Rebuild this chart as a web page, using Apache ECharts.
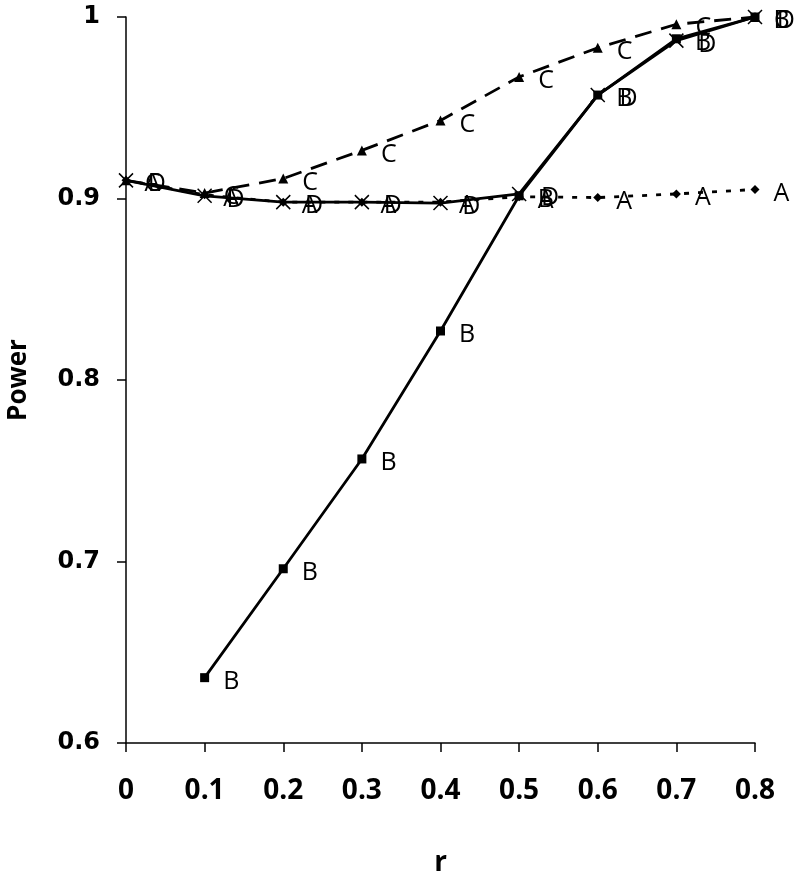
<!DOCTYPE html>
<html><head><meta charset="utf-8">
<script src="https://cdn.jsdelivr.net/npm/echarts@6/dist/echarts.min.js"></script>
<style>html,body{margin:0;padding:0;background:#fff}#c{width:800px;height:882px}</style>
</head><body><div id="c"></div>
<script>
const rValues = [0, 0.1, 0.2, 0.3, 0.4, 0.5, 0.6, 0.7, 0.8];
const seriesA = [0.910, 0.902, 0.898, 0.898, 0.898, 0.901, 0.9005, 0.9025, 0.905];
const seriesB = [null, 0.636, 0.696, 0.7565, 0.827, 0.9015, 0.957, 0.988, 1.0];
const seriesC = [0.910, 0.903, 0.911, 0.9265, 0.943, 0.967, 0.983, 0.996, 1.0];
const seriesD = [0.910, 0.9015, 0.898, 0.898, 0.8975, 0.9025, 0.957, 0.987, 1.0];
const seriesNames = ['A', 'B', 'C', 'D'];
const xTicks = ['0', '0.1', '0.2', '0.3', '0.4', '0.5', '0.6', '0.7', '0.8'];
const yTicks = ['0.6', '0.7', '0.8', '0.9', '1'];

function pairs(vals) { return rValues.map((x, i) => [x, vals[i]]).filter(p => p[1] != null); }
const lbl = (name) => ({
  show: true, position: 'right', distance: 14, offset: [0, 4],
  formatter: name, color: '#000', fontSize: 25, fontFamily: 'Open Sans'
});
const chart = echarts.init(document.getElementById('c'));
chart.setOption({
  animation: false,
  backgroundColor: '#fff',
  grid: { left: 126, right: 45, top: 17, bottom: 139, containLabel: false, outerBoundsMode: 'none' },
  xAxis: {
    type: 'value', min: 0, max: 0.8, interval: 0.1,
    name: 'r', nameLocation: 'middle', nameGap: 106,
    nameTextStyle: { fontSize: 28, fontWeight: 'bold', fontFamily: "'Open Sans'", color: '#000' },
    axisLine: { lineStyle: { color: '#000', width: 1.5 } },
    axisTick: { inside: false, length: 9, lineStyle: { color: '#000', width: 1.5 } },
    axisLabel: { margin: 34, fontSize: 28, fontWeight: 'bold', color: '#000', fontFamily: "'Open Sans'",
      formatter: (v) => xTicks[Math.round(v * 10)] },
    splitLine: { show: false }
  },
  yAxis: {
    type: 'value', min: 0.6, max: 1, interval: 0.1,
    name: 'Power', nameLocation: 'middle', nameGap: 94, nameRotate: 90,
    nameTextStyle: { fontSize: 26, fontWeight: 'bold', fontFamily: "'Open Sans'", color: '#000' },
    axisLine: { show: true, lineStyle: { color: '#000', width: 1.5 } },
    axisTick: { show: true, length: 9, lineStyle: { color: '#000', width: 1.5 } },
    axisLabel: { margin: 26, fontSize: 24, fontWeight: 'bold', color: '#000', fontFamily: 'DejaVu Sans',
      formatter: (v) => yTicks[Math.round(v * 10) - 6] },
    splitLine: { show: false }
  },
  series: [
    { name: seriesNames[0], type: 'line', data: pairs(seriesA), symbol: 'diamond', symbolSize: 9,
      itemStyle: { color: '#000' }, lineStyle: { color: '#000', width: 2.8, type: [5, 9] }, label: lbl('A'), z: 2 },
    { name: seriesNames[2], type: 'line', data: pairs(seriesC), symbol: 'triangle', symbolSize: 10,
      itemStyle: { color: '#000' }, lineStyle: { color: '#000', width: 2.8, type: [17, 10] }, label: lbl('C'), z: 3 },
    { name: seriesNames[1], type: 'line', data: pairs(seriesB), symbol: 'rect', symbolSize: 9,
      itemStyle: { color: '#000' }, lineStyle: { color: '#000', width: 2.8 }, label: lbl('B'), z: 4 },
    { name: seriesNames[3], type: 'line', data: pairs(seriesD), symbol: 'path://M0,0L10,10M10,0L0,10M4,4L6,4L6,6L4,6Z', symbolSize: 14,
      itemStyle: { color: '#000', borderColor: '#000', borderWidth: 1.5 }, lineStyle: { color: '#000', width: 2.8 }, label: lbl('D'), z: 5 }
  ]
});
</script></body></html>
